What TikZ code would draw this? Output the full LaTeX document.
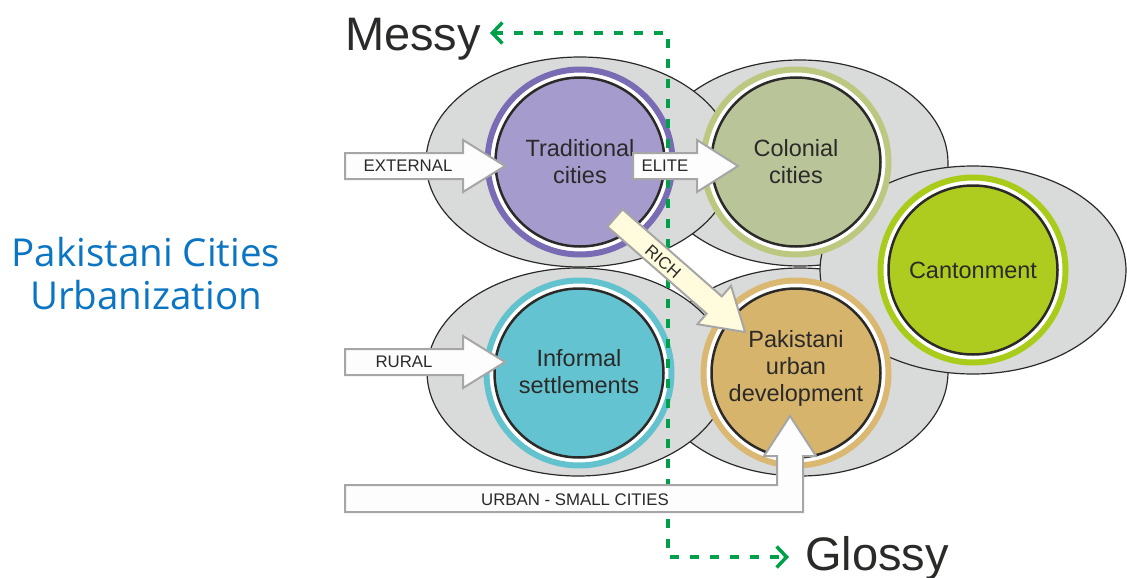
\documentclass[tikz,border=0pt]{standalone}
\usepackage{fontspec}
\setmainfont{Liberation Sans}
\newfontfamily\titlefont{Open Sans}
\usetikzlibrary{arrows.meta}
\definecolor{ink}{HTML}{2B2A29}
\definecolor{shellgray}{HTML}{D9DBDA}
\definecolor{arrowgray}{HTML}{A6A6A6}
\definecolor{arrowfill}{HTML}{FDFDFD}
\definecolor{richfill}{HTML}{FFFBDC}
\definecolor{trendgreen}{HTML}{00A04A}
\definecolor{titleblue}{HTML}{0B75C3}
\definecolor{tradring}{HTML}{7A6CB4}
\definecolor{tradfill}{HTML}{A59BCC}
\definecolor{colring}{HTML}{BCC77F}
\definecolor{colfill}{HTML}{B9C599}
\definecolor{cantring}{HTML}{A9CB1A}
\definecolor{cantfill}{HTML}{AECB1F}
\definecolor{infring}{HTML}{62C2CE}
\definecolor{inffill}{HTML}{64C3D0}
\definecolor{pakring}{HTML}{DAB872}
\definecolor{pakfill}{HTML}{D7B46C}
\def\blockarrow[#1](#2)(#3:#4:#5:#6:#7){\draw[#1,shift={(#2)},rotate=#3] (0,-#5) -- ({#4-#7},-#5) -- ({#4-#7},-#6) -- (#4,0) -- ({#4-#7},#6) -- ({#4-#7},#5) -- (0,#5) -- cycle;}
\def\cityring(#1)(#2:#3){\draw[line width=6, color=#2, fill=white] (#1) circle (92.5); \draw[line width=2.5, draw=ink, fill=#3] (#1) circle (84.5);}

\begin{document}
\begin{tikzpicture}[x=1pt,y=-1pt,
		shell/.style={fill=shellgray, draw=ink, line width=1.2},
		lbl/.style={text=ink, align=center, font=\fontsize{23.5}{27}\selectfont},
		tag/.style={text=ink, inner sep=0, font=\fontsize{16.8}{18}\selectfont},
		flow/.style={draw=arrowgray, fill=arrowfill, line width=2},
		trend/.style={draw=trendgreen, line width=3.5, dash pattern=on 9pt off 11pt,
			{Straight Barb[length=10pt,width=21pt]}-{Straight Barb[length=10pt,width=21pt]}},
		big/.style={text=ink, inner sep=0, font=\fontsize{47}{50}\selectfont}]
		%%%%% START %%%%%
		
		\useasboundingbox (0,0) rectangle (1127,578);
		
		% grey shells
		\draw[shell] (800,163) ellipse [x radius=148, y radius=103];
		\draw[shell] (800,372) ellipse [x radius=148, y radius=104];
		\draw[shell] (973,270) ellipse [x radius=153, y radius=104];
		\draw[shell] (580,162) ellipse [x radius=154, y radius=105];
		\draw[shell] (578,372) ellipse [x radius=151, y radius=104];
		
		% city circles
		\cityring(580,162)(tradring:tradfill);
		\cityring(796,162)(colring:colfill);
		\cityring(973,270)(cantring:cantfill);
		\cityring(579,373)(infring:inffill);
		\cityring(796,373)(pakring:pakfill);
		
		\node[lbl] (trad) at (580,162) {Traditional\\cities};
		\node[lbl] (colonial) at (796,162) {Colonial\\cities};
		\node[lbl] (canton) at (973,270) {Cantonment};
		\node[lbl] (informal) at (579,372) {Informal\\settlements};
		\node[lbl] (pakurban) at (796,368) {Pakistani\\urban\\development};
		
		% messy / glossy axis
		\node[big, anchor=base east] (messy) at (481,51) {Messy};
		\node[big, anchor=base west] (glossy) at (805,570) {Glossy};
		\coordinate (messytip) at (490,33);
		\coordinate (topturn) at (668,33);
		\coordinate (botturn) at (668,557);
		\coordinate (glossytip) at (789,557);
		\draw[trend] (messytip) -- (topturn) -- (botturn) -- (glossytip);
		
		% flows
		\blockarrow[flow](345,166)(0:160:13:26:42);
		\node[tag] (external) at (408,166) {EXTERNAL};
		\blockarrow[flow](633,166)(0:105:13:26:41);
		\node[tag] (elite) at (665,166) {ELITE};
		\blockarrow[flow](345,362)(0:160:13:26:42);
		\node[tag] (rural) at (404,362) {RURAL};
		\blockarrow[draw=arrowgray, fill=richfill, line width=2](615,218)(-41.25:173:11.5:25.5:41);
		\node[tag, rotate=-41.25] (rich) at (663,262) {RICH};
		\draw[flow] (345,485) -- (777,485) -- (777,456) -- (764,456) -- (790,416) -- (816,456) -- (803,456) -- (803,512) -- (345,512) -- cycle;
		\node[tag] (urban) at (575,500) {URBAN - SMALL CITIES};
		
		\node[text=titleblue, align=center, font=\titlefont\fontsize{38.5}{43}\selectfont] (heading) at (146,274) {Pakistani Cities\\Urbanization};
		
		%%%%% END %%%%%
\end{tikzpicture}
\end{document}
